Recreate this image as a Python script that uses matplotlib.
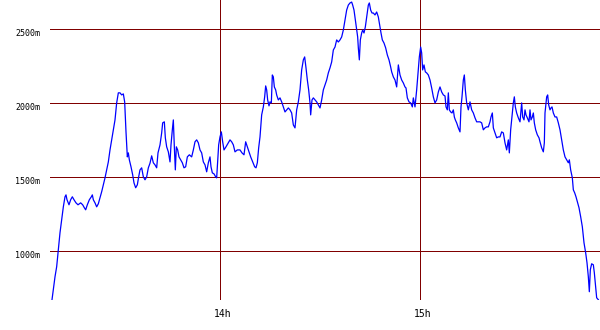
import matplotlib
matplotlib.use("Agg")
import matplotlib.pyplot as plt
import matplotlib.transforms as mtransforms

# minutes after 13:00 and level in m
minutes = [9.6, 10.5, 11.0, 11.5, 12.0, 12.5, 13.0, 13.5, 13.8, 14.1, 14.7, 15.2, 15.7, 16.2,
           16.8, 17.4, 18.2, 18.8, 19.3, 19.7, 20.2, 20.8, 21.4, 21.7, 22.0, 22.5, 23.0, 23.5,
           24.0, 24.5, 25.0, 25.5, 26.0, 26.5, 27.0, 27.5, 28.0, 28.5, 29.0, 29.5, 30.0, 30.5,
           31.0, 31.4, 31.8, 32.2, 32.5, 32.8, 33.3, 33.8, 34.2, 34.7, 35.2, 35.6, 36.0, 36.5,
           37.0, 37.5, 38.0, 38.5, 39.0, 39.5, 40.0, 40.5, 41.0, 41.4, 42.0, 42.5, 42.8, 43.3,
           43.6, 44.0, 44.5, 45.0, 45.3, 45.7, 46.0, 46.3, 46.6, 46.9, 47.3, 47.7, 48.2, 48.7,
           49.2, 49.7, 50.2, 50.8, 51.5, 52.0, 52.5, 53.0, 53.5, 54.0, 54.5, 55.0, 55.5, 56.0,
           56.5, 57.0, 57.3, 57.7, 58.2, 58.7, 59.0, 59.3, 59.6, 60.0, 60.4, 60.8, 61.2, 61.8,
           62.5, 63.0, 63.5, 64.0, 64.5, 65.2, 66.0, 66.6, 67.2, 67.7, 68.2, 68.7, 69.2, 69.8,
           70.4, 70.8, 71.2, 71.6, 72.0, 72.5, 73.0, 73.4, 73.7, 74.0, 74.3, 74.7, 75.0, 75.4,
           75.7, 76.0, 76.3, 76.7, 77.0, 77.5, 78.0, 78.5, 79.0, 79.5, 80.0, 80.5, 81.0, 81.5,
           82.0, 82.5, 83.0, 83.5, 84.0, 84.5, 85.0, 85.4, 85.8, 86.2, 86.6, 87.0, 87.2, 87.6,
           88.0, 88.5, 89.0, 89.5, 90.0, 90.5, 91.0, 91.5, 92.0, 92.5, 93.0, 93.5, 94.0, 94.5,
           95.0, 95.5, 96.0, 96.5, 97.0, 97.5, 98.0, 98.5, 99.0, 99.5, 99.8, 100.2, 100.6, 101.0,
           101.3, 101.5, 101.8, 102.1, 102.5, 102.8, 103.2, 103.6, 104.0, 104.5, 104.8, 105.2,
           105.6, 106.0, 106.5, 107.0, 107.5, 108.0, 108.3, 108.7, 109.2, 109.7, 110.2, 110.7,
           111.2, 111.5, 112.0, 112.5, 113.0, 113.5, 114.0, 114.5, 115.0, 115.5, 115.8, 116.2,
           116.7, 117.2, 117.7, 118.0, 118.5, 119.0, 119.5, 119.8, 120.2, 120.5, 120.8, 121.2,
           121.6, 122.0, 122.5, 123.0, 123.5, 124.0, 124.5, 125.0, 125.5, 126.0, 126.5, 127.0,
           127.5, 127.8, 128.2, 128.5, 128.8, 129.2, 129.6, 130.0, 130.3, 130.6, 131.0, 131.5,
           132.0, 132.3, 132.6, 133.0, 133.3, 133.6, 134.0, 134.5, 135.0, 135.5, 136.0, 136.5,
           137.0, 137.5, 138.0, 138.5, 139.0, 139.5, 140.0, 140.5, 141.0, 141.3, 141.7, 142.0,
           142.5, 143.0, 143.5, 144.0, 144.5, 145.0, 145.5, 146.0, 146.5, 146.8, 147.2, 147.5,
           148.0, 148.3, 148.6, 149.0, 149.5, 150.0, 150.3, 150.5, 150.8, 151.2, 151.5, 151.8,
           152.2, 152.7, 153.0, 153.3, 153.7, 154.0, 154.3, 154.7, 155.2, 155.7, 156.0, 156.5,
           157.0, 157.3, 157.5, 157.8, 158.0, 158.3, 158.6, 159.0, 159.3, 159.6, 160.0, 160.5,
           161.0, 161.5, 162.0, 162.5, 163.0, 163.5, 164.0, 164.5, 164.8, 165.2, 165.7, 166.0,
           166.4, 166.8, 167.2, 167.7, 168.2, 168.7, 169.2, 169.7, 170.1, 170.5, 170.8, 171.1,
           171.5, 172.0, 172.3, 172.7, 173.0, 173.5]
level = [672, 827, 895, 1010, 1125, 1212, 1300, 1368, 1381, 1348, 1314, 1348, 1368, 1348,
         1327, 1314, 1327, 1314, 1294, 1280, 1314, 1348, 1368, 1381, 1348, 1327, 1300, 1321,
         1361, 1402, 1449, 1496, 1550, 1604, 1685, 1753, 1821, 1888, 2003, 2071, 2071, 2057,
         2064, 2010, 1807, 1638, 1665, 1618, 1571, 1517, 1462, 1429, 1449, 1503, 1550, 1564,
         1503, 1483, 1503, 1564, 1595, 1645, 1598, 1584, 1564, 1665, 1719, 1800, 1868, 1875,
         1767, 1706, 1672, 1604, 1719, 1821, 1888, 1706, 1550, 1706, 1685, 1638, 1618, 1598,
         1564, 1571, 1638, 1652, 1638, 1685, 1740, 1753, 1733, 1685, 1665, 1604, 1584, 1537,
         1598, 1638, 1571, 1530, 1523, 1503, 1496, 1604, 1719, 1773, 1807, 1740, 1685, 1706,
         1733, 1753, 1740, 1719, 1672, 1685, 1685, 1665, 1652, 1740, 1706, 1672, 1638, 1604,
         1571, 1564, 1598, 1699, 1773, 1922, 1976, 2044, 2118, 2091, 2023, 1983, 2010, 2003,
         2192, 2179, 2111, 2091, 2057, 2023, 2037, 2010, 1976, 1942, 1956, 1969, 1956, 1935,
         1854, 1834, 1956, 2010, 2091, 2226, 2294, 2314, 2240, 2158, 2091, 2003, 1922, 2023,
         2037, 2023, 2010, 1989, 1969, 2023, 2091, 2125, 2158, 2206, 2240, 2280, 2361, 2381,
         2429, 2415, 2429, 2449, 2496, 2564, 2631, 2665, 2679, 2685, 2665, 2631, 2564, 2496,
         2449, 2375, 2294, 2429, 2476, 2496, 2476, 2517, 2584, 2665, 2679, 2631,
         2611, 2611, 2598, 2618, 2584, 2517, 2476, 2429, 2408, 2375, 2327, 2294,
         2246, 2213, 2179, 2158, 2111, 2260, 2192, 2158, 2138, 2111, 2104, 2037,
         2010, 2003, 1976, 2037, 1976, 2091, 2226, 2314, 2381, 2341, 2226, 2260,
         2213, 2206, 2192, 2158, 2104, 2044, 2003, 2023, 2077, 2111, 2077, 2057,
         2050, 1976, 1956, 2071, 1956, 1942, 1935, 1956, 1908, 1888, 1868, 1834,
         1807, 1976, 2044, 2158, 2192, 2091, 2003, 1956, 2010, 1956, 1935, 1902,
         1875, 1875, 1875, 1868, 1821, 1834, 1841, 1841, 1875, 1908, 1935, 1834,
         1800, 1767, 1773, 1773, 1807, 1800, 1733, 1685, 1753, 1665, 1821, 1888,
         2003, 2044, 1976, 1935, 1902, 1875, 1956, 2003, 1908, 1888, 1956, 1922,
         1902, 1875, 1956, 1888, 1908, 1935, 1868, 1821, 1787, 1767, 1740, 1699,
         1672, 1733, 1935, 2003, 2044, 2057, 1990, 1956, 1969, 1976, 1935, 1908,
         1908, 1868, 1821, 1753, 1685, 1638, 1618, 1598, 1618, 1550, 1496, 1415,
         1395, 1368, 1334, 1294, 1233, 1165, 1057, 989, 922, 827, 726, 875,
         915, 908, 854, 753, 685, 672]

hour_ticks = [60, 120]
hour_labels = ["14h", "15h"]
level_ticks = [1000, 1500, 2000, 2500]
level_labels = ["1000m", "1500m", "2000m", "2500m"]

grid_col = "#800000"

fig = plt.figure(figsize=(6, 3.3), dpi=100)
ax = fig.add_axes([50 / 600, 30 / 330, 550 / 600, 300 / 330])

for v in level_ticks:
    ax.axhline(v, color=grid_col, lw=0.72, zorder=1)
for t in hour_ticks:
    ax.axvline(t, color=grid_col, lw=0.72, zorder=1)

ax.plot(minutes, level, color="#0000ff", lw=0.9, zorder=2)

ax.set_xlim(9, 174)
ax.set_ylim(670, 2699)

for s in ax.spines.values():
    s.set_visible(False)

ax.set_xticks(hour_ticks)
ax.set_xticklabels(hour_labels, family="DejaVu Sans Mono", fontsize=7)
ax.set_yticks(level_ticks)
ax.set_yticklabels(level_labels, family="DejaVu Sans Mono", fontsize=6)
ax.tick_params(axis="x", length=0, pad=6.5)
ax.tick_params(axis="y", length=0, pad=7)

shift_x = mtransforms.ScaledTranslation(3 / 100, 0, fig.dpi_scale_trans)
for lab in ax.get_xticklabels():
    lab.set_transform(lab.get_transform() + shift_x)
shift_y = mtransforms.ScaledTranslation(0, -3 / 100, fig.dpi_scale_trans)
for lab in ax.get_yticklabels():
    lab.set_transform(lab.get_transform() + shift_y)

fig.savefig("out.png", dpi=100)
